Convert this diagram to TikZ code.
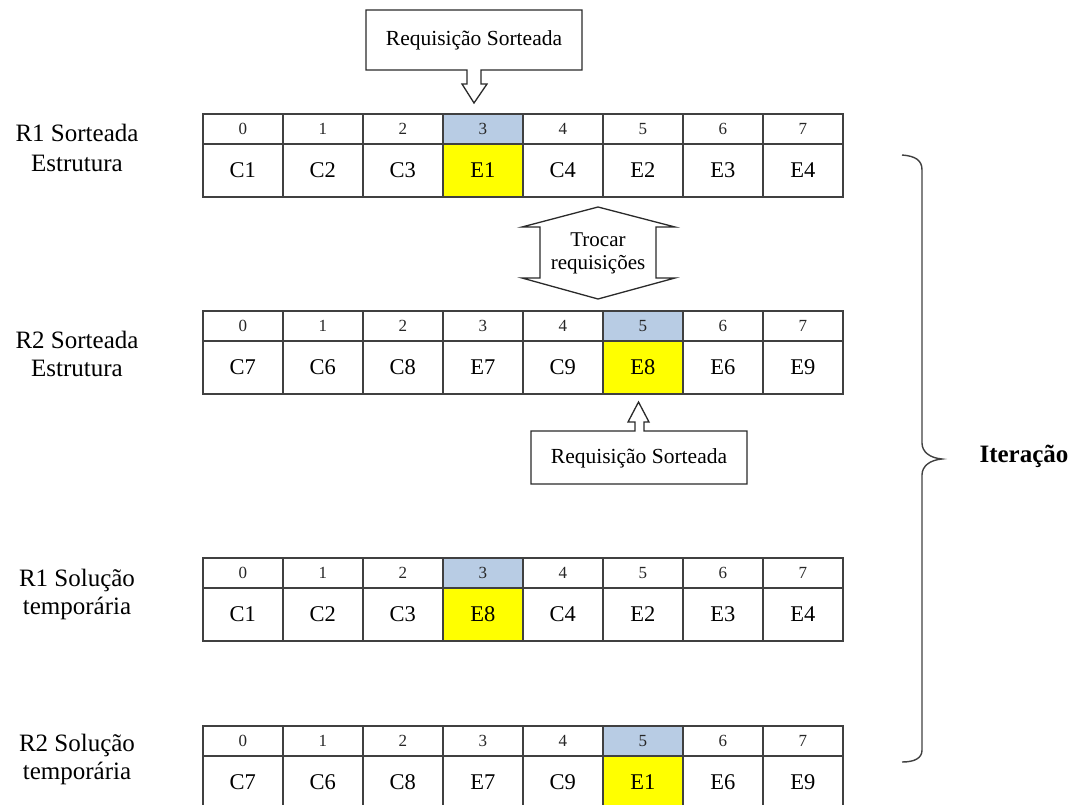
\documentclass[tikz,border=0pt]{standalone}
\usepackage{fontspec}
\setmainfont{Liberation Serif}
\definecolor{hdrblue}{HTML}{B8CCE4}
\definecolor{selyellow}{HTML}{FFFF00}
\definecolor{gridline}{HTML}{404040}
\definecolor{inkline}{HTML}{2A2A2A}

% one array: header row of indices over a row of entries
\newcommand\celltable[4]{%
  \foreach \v [count=\i from 0] in {#4} {%
    \ifnum\i=#3 \def\hf{hdrblue}\def\df{selyellow}\else\def\hf{white}\def\df{white}\fi
    \node[hcell,fill=\hf] (#1h\i) at ({202+80*\i},#2) {\i};
    \node[dcell,fill=\df] (#1d\i) at ({202+80*\i},#2+30) {\v};
  }}

\begin{document}
\begin{tikzpicture}[x=1pt,y=-1pt,
  hcell/.style={draw=gridline,line width=1.6pt,anchor=north west,inner sep=0pt,
    minimum width=80pt,minimum height=30pt,text=black!85,
    font=\fontsize{17}{18}\selectfont},
  dcell/.style={draw=gridline,line width=1.6pt,anchor=north west,inner sep=0pt,
    minimum width=80pt,minimum height=53pt,
    font=\fontsize{22.5}{24}\selectfont},
  lbl/.style={align=center,inner sep=0pt},
  callshape/.style={draw=inkline,line width=1.3pt,fill=white,line join=miter},
  calltext/.style={inner sep=0pt,font=\fontsize{21.5}{23}\selectfont},
]
\useasboundingbox (0,0) rectangle (1073,805);

% arrays
\celltable{ta}{113}{3}{C1,C2,C3,E1,C4,E2,E3,E4}
\celltable{tb}{310}{5}{C7,C6,C8,E7,C9,E8,E6,E9}
\celltable{tc}{557}{3}{C1,C2,C3,E8,C4,E2,E3,E4}
\celltable{td}{725}{5}{C7,C6,C8,E7,C9,E1,E6,E9}

% row labels
\node[lbl,font=\fontsize{25}{30}\selectfont] (la) at (77,148) {R1 Sorteada\\Estrutura};
\node[lbl,font=\fontsize{25}{28}\selectfont] (lb) at (77,354) {R2 Sorteada\\Estrutura};
\node[lbl,font=\fontsize{25}{28}\selectfont] (lc) at (77,594) {R1 Solução\\temporária};
\node[lbl,font=\fontsize{25}{28}\selectfont] (ld) at (77,759) {R2 Solução\\temporária};

% upper callout pointing down at position 3
\draw[callshape] (366,10) -- (582,10) -- (582,70) -- (481,70) -- (481,84) -- (487,84)
  -- (474,103) -- (462,84) -- (467,84) -- (467,70) -- (366,70) -- cycle;
\node[calltext] (ca) at (474,40) {Requisição Sorteada};

% lower callout pointing up at position 5
\draw[callshape] (531,431) -- (635,431) -- (635,422) -- (628,422) -- (638.5,402)
  -- (649,422) -- (644,422) -- (644,431) -- (747,431) -- (747,484) -- (531,484) -- cycle;
\node[calltext] (cb) at (639,458) {Requisição Sorteada};

% up-down swap arrow
\draw[callshape] (598,207) -- (675,227) -- (656,227) -- (656,278) -- (675,278)
  -- (598,299) -- (522,278) -- (540,278) -- (540,227) -- (522,227) -- cycle;
\node[calltext,align=center,font=\fontsize{21}{23}\selectfont] (sw) at (598,253)
  {Trocar\\requisições};

% brace grouping the iteration
\draw[gridline,line width=1.4pt]
  (902,155) .. controls (915,156) and (922,160) .. (922,170) -- (922,443)
  .. controls (922,452) and (930,458) .. (942,459)
  .. controls (930,460) and (922,466) .. (922,475) -- (922,750)
  .. controls (922,758) and (915,762) .. (902,762);
\node[inner sep=0pt,font=\fontsize{25}{27}\selectfont\bfseries] (it) at (1024,456) {Iteração};
\end{tikzpicture}
\end{document}
